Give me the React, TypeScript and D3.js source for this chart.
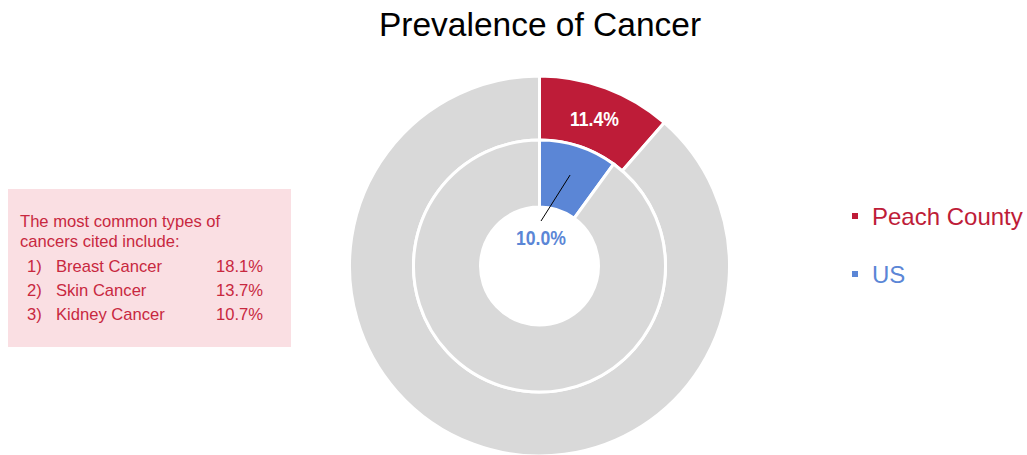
import { useEffect, useRef } from 'react'
import * as d3 from 'd3'

const W = 1027
const H = 455

const series = ['Peach County', 'US']
const seriesColors = ['#BE1C38', '#5B86D6']
const peachValues = [11.4, 88.6]
const usValues = [10.0, 90.0]

const noteLines = ['The most common types of', 'cancers cited include:']
const cancerRanks = ['1)', '2)', '3)']
const cancerTypes = ['Breast Cancer', 'Skin Cancer', 'Kidney Cancer']
const cancerRates = ['18.1%', '13.7%', '10.7%']

const GREY = '#D9D9D9'
const FONT = 'Liberation Sans, Arial, sans-serif'

export default function App() {
  const svgRef = useRef<SVGSVGElement>(null)

  useEffect(() => {
    if (!svgRef.current) return
    const svg = d3.select(svgRef.current)
    svg.selectAll('*').remove()

    svg.append('rect').attr('width', W).attr('height', H).attr('fill', '#fff')

    // Title
    svg.append('text')
      .attr('x', 540).attr('y', 36)
      .attr('text-anchor', 'middle')
      .style('font-family', FONT).style('font-size', '33.5px').style('fill', '#000')
      .text('Prevalence of Cancer')

    const cx = 539.5
    const cy = 266
    const g = svg.append('g').attr('transform', `translate(${cx},${cy})`)

    const pie = d3.pie<number>().sort(null).value(d => d)

    const rings = [
      { values: peachValues, color: seriesColors[0], inner: 126, outer: 190 },
      { values: usValues, color: seriesColors[1], inner: 59, outer: 126 },
    ]

    rings.forEach(ring => {
      const arc = d3.arc<d3.PieArcDatum<number>>().innerRadius(ring.inner).outerRadius(ring.outer)
      g.append('g')
        .selectAll('path')
        .data(pie(ring.values))
        .join('path')
        .attr('d', arc)
        .attr('fill', (_, i) => (i === 0 ? ring.color : GREY))
        .attr('stroke', '#fff')
        .attr('stroke-width', 3)
    })

    // Outer label (Peach County)
    const outerArc = d3.arc<d3.PieArcDatum<number>>().innerRadius(126).outerRadius(190)
    const pc = outerArc.centroid(pie(peachValues)[0])
    g.append('text')
      .attr('x', pc[0] - 0.5).attr('y', pc[1] + 1)
      .attr('text-anchor', 'middle').attr('dominant-baseline', 'central')
      .attr('textLength', 49).attr('lengthAdjust', 'spacingAndGlyphs')
      .style('font-family', FONT).style('font-size', '20px').style('font-weight', 'bold')
      .style('fill', '#fff')
      .text(`${peachValues[0].toFixed(1)}%`)

    // Inner label (US) with leader line
    const innerArc = d3.arc<d3.PieArcDatum<number>>().innerRadius(59).outerRadius(126)
    const uc = innerArc.centroid(pie(usValues)[0])
    g.append('line')
      .attr('x1', 1.5).attr('y1', -45)
      .attr('x2', uc[0] + 2).attr('y2', uc[1] - 3)
      .attr('stroke', '#000').attr('stroke-width', 1)
    g.append('text')
      .attr('x', 1.5).attr('y', -28)
      .attr('text-anchor', 'middle').attr('dominant-baseline', 'central')
      .attr('textLength', 50).attr('lengthAdjust', 'spacingAndGlyphs')
      .style('font-family', FONT).style('font-size', '20px').style('font-weight', 'bold')
      .style('fill', seriesColors[1])
      .text(`${usValues[0].toFixed(1)}%`)

    // Legend
    const legend = svg.append('g').attr('transform', 'translate(852,216)')
    series.forEach((name, i) => {
      const row = legend.append('g').attr('transform', `translate(0,${i * 58})`)
      row.append('rect').attr('x', 0).attr('y', -3).attr('width', 6).attr('height', 6).attr('fill', seriesColors[i])
      row.append('text')
        .attr('x', 20).attr('y', 0)
        .attr('dominant-baseline', 'central')
        .style('font-family', FONT).style('font-size', '24px')
        .style('fill', seriesColors[i])
        .text(name)
    })

    // Note box
    const note = svg.append('g')
    note.append('rect').attr('x', 8).attr('y', 189).attr('width', 283).attr('height', 158).attr('fill', '#FADFE3')
    const txt = (x: number, y: number, s: string) =>
      note.append('text').attr('x', x).attr('y', y)
        .style('font-family', FONT).style('font-size', '16.6px').style('fill', '#C8283F')
        .text(s)
    noteLines.forEach((s, i) => txt(20, 227 + i * 20, s))
    cancerTypes.forEach((s, i) => {
      const y = 272 + i * 24
      txt(27, y, cancerRanks[i])
      txt(56, y, s)
      txt(216, y, cancerRates[i])
    })
  }, [])

  return (
    <svg
      ref={svgRef}
      width={W}
      height={H}
      style={{ position: 'absolute', left: 0, top: 0, display: 'block' }}
    />
  )
}
